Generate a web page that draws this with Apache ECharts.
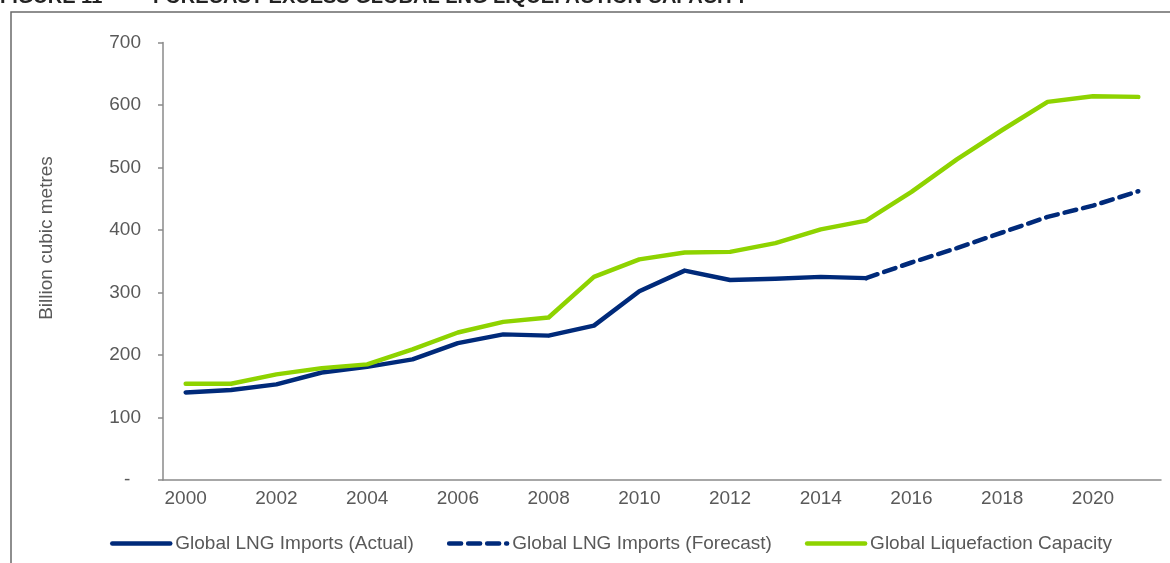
<!DOCTYPE html>
<html>
<head>
<meta charset="utf-8">
<script src="https://cdn.jsdelivr.net/npm/echarts@6/dist/echarts.min.js"></script>
<style>
  html, body { margin: 0; padding: 0; background: #fff; }
  #chart { width: 1170px; height: 563px; }
</style>
</head>
<body>
<div id="chart"></div>
<script>
// years on the x axis
const years = ['2000', '2001', '2002', '2003', '2004', '2005', '2006', '2007', '2008', '2009', '2010',
  '2011', '2012', '2013', '2014', '2015', '2016', '2017', '2018', '2019', '2020', '2021'];
// Billion cubic metres
const importsActual = [140, 144, 153, 172, 181, 193, 219, 233, 231, 247, 302, 335, 320, 322, 325, 323,
  null, null, null, null, null, null];
const importsForecast = [null, null, null, null, null, null, null, null, null, null, null,
  null, null, null, null, 323, 348, 371, 396, 421, 439, 462];
const liquefaction = [154, 154, 169, 179, 185, 209, 236, 253, 260, 325, 353, 364, 365, 379, 401, 415,
  461, 513, 560, 605, 614, 613];

const names = ['Global LNG Imports (Actual)', 'Global LNG Imports (Forecast)', 'Global Liquefaction Capacity'];
const blue = '#002A7A';
const green = '#8ED300';
const grey = '#595959';
const font = 'Arial, "Liberation Sans", sans-serif';

const chart = echarts.init(document.getElementById('chart'));

chart.setOption({
  animation: false,
  textStyle: { fontFamily: font },
  grid: { left: 163, right: 9, top: 42.5, bottom: 83 },
  graphic: [
    // outer frame (only left and top edges are visible)
    { type: 'polyline', shape: { points: [[11, 563], [11, 12], [1170, 12]] },
      style: { stroke: '#6a6a6a', lineWidth: 1.5, fill: null } },
    // title, clipped by the top of the picture
    { type: 'text', x: 0, y: -12.5,
      style: { text: 'FIGURE 11', font: 'bold 20px ' + font, fill: '#222' } },
    { type: 'text', x: 153, y: -12.5,
      style: { text: 'FORECAST EXCESS GLOBAL LNG LIQUEFACTION CAPACITY', font: 'bold 20px ' + font, fill: '#222' } },
    // y axis title
    { type: 'text', x: 47, y: 238, rotation: Math.PI / 2,
      style: { text: 'Billion cubic metres', font: '19px ' + font, fill: grey, align: 'center', verticalAlign: 'middle' } }
  ],
  legend: {
    left: 105,
    top: 529,
    itemWidth: 58,
    itemHeight: 14,
    itemGap: 33,
    itemStyle: { opacity: 0 },
    lineStyle: { width: 4.5 },
    textStyle: { color: grey, fontSize: 19 },
    data: names
  },
  xAxis: {
    type: 'category',
    data: years,
    boundaryGap: true,
    axisLine: { lineStyle: { color: '#8a8a8a', width: 1.5 } },
    axisTick: { interval: 0, length: 5, lineStyle: { color: '#8a8a8a', width: 1.5 } },
    axisLabel: { interval: 1, color: grey, fontSize: 19, margin: 9 },
    splitLine: { show: false }
  },
  yAxis: {
    type: 'value',
    min: 0,
    max: 700,
    interval: 100,
    axisLine: { show: true, lineStyle: { color: '#8a8a8a', width: 1.5 } },
    axisTick: { show: true, length: 5, lineStyle: { color: '#8a8a8a', width: 1.5 } },
    axisLabel: {
      color: grey, fontSize: 19, margin: 22,
      formatter: v => (v === 0 ? '-  ' : v)
    },
    splitLine: { show: false }
  },
  series: [
    {
      name: names[0], type: 'line', data: importsActual, symbol: 'none',
      color: blue, lineStyle: { color: blue, width: 4.5, cap: 'round', join: 'round' }
    },
    {
      name: names[1], type: 'line', data: importsForecast, symbol: 'none',
      color: blue, lineStyle: { color: blue, width: 4.5, type: [12, 7], cap: 'round' }
    },
    {
      name: names[2], type: 'line', data: liquefaction, symbol: 'none',
      color: green, lineStyle: { color: green, width: 4.5, cap: 'round', join: 'round' }
    }
  ]
});
</script>
</body>
</html>
